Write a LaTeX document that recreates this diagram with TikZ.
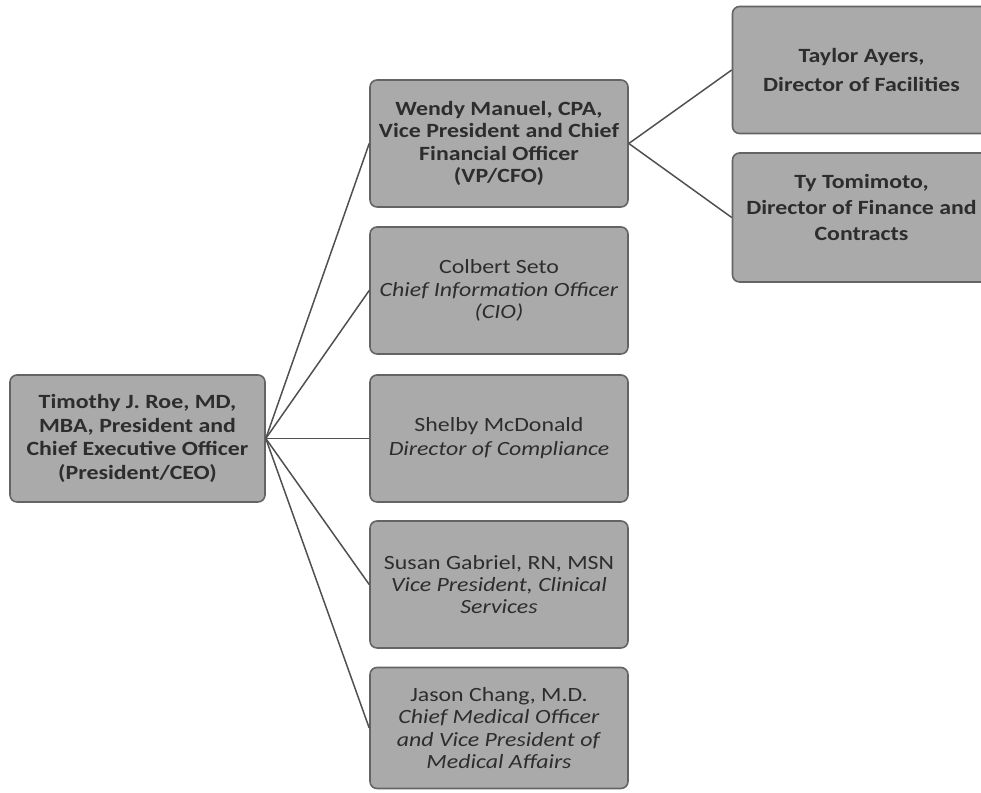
\documentclass[tikz,border=0pt]{standalone}
\usepackage{fontspec}
\setmainfont{Carlito}[FakeStretch=1.18]
\definecolor{boxfill}{RGB}{170,170,170}
\definecolor{boxline}{RGB}{100,100,100}
\definecolor{inktext}{RGB}{45,45,45}
\definecolor{linkgray}{RGB}{80,80,80}
\begin{document}
\begin{tikzpicture}[
        role/.style={rectangle, draw=boxline, line width=0.9pt, fill=boxfill, rounded corners=4pt,
            minimum width=5.16cm, minimum height=2.54cm, align=center, text=inktext,
            font=\fontsize{11.5}{12.6}\selectfont, inner sep=1pt},
        lead/.style={role, font=\fontsize{11.5}{12.6}\selectfont\bfseries},
        link/.style={draw=linkgray, line width=0.85pt}
    ]

    \useasboundingbox (0,0) rectangle (19.62,-15.86);
    \clip (0,0) rectangle (19.62,-15.86);

    % Chief executive
    \node (ceo) at (2.75,-8.77) [lead, minimum width=5.1cm, font=\fontsize{11.5}{13.3}\selectfont\bfseries] {Timothy J. Roe, MD,\\MBA, President and\\Chief Executive Officer\\(President/CEO)};

    % Direct reports
    \node (cfo) at (9.98,-2.87) [lead] {Wendy Manuel, CPA,\\Vice President and Chief\\Financial Officer\\(VP/CFO)};
    \node (cio) at (9.98,-5.81) [role] {Colbert Seto\\\textit{Chief Information Officer}\\\textit{(CIO)}};
    \node (compliance) at (9.98,-8.77) [role] {Shelby McDonald\\[1pt]\textit{Director of Compliance}};
    \node (clinical) at (9.98,-11.69) [role] {Susan Gabriel, RN, MSN\\\textit{Vice President, Clinical}\\\textit{Services}};
    \node (cmo) at (9.98,-14.56) [role, minimum height=2.42cm] {Jason Chang, M.D.\\\textit{Chief Medical Officer}\\\textit{and Vice President of}\\\textit{Medical Affairs}};

    % Reports to the CFO
    \node (facilities) at (17.23,-1.4) [lead] {Taylor Ayers,\\[4pt]Director of Facilities};
    \node (finance) at (17.23,-4.35) [lead, minimum height=2.58cm] {Ty Tomimoto,\\[2pt]Director of Finance and\\[2pt]Contracts\\[-1pt]\mbox{}};

    % Connectors
    \foreach \n in {cfo, cio, compliance, clinical, cmo}
        \draw[link] (ceo.east) -- (\n.west);
    \foreach \n in {facilities, finance}
        \draw[link] (cfo.east) -- (\n.west);

\end{tikzpicture}
\end{document}
